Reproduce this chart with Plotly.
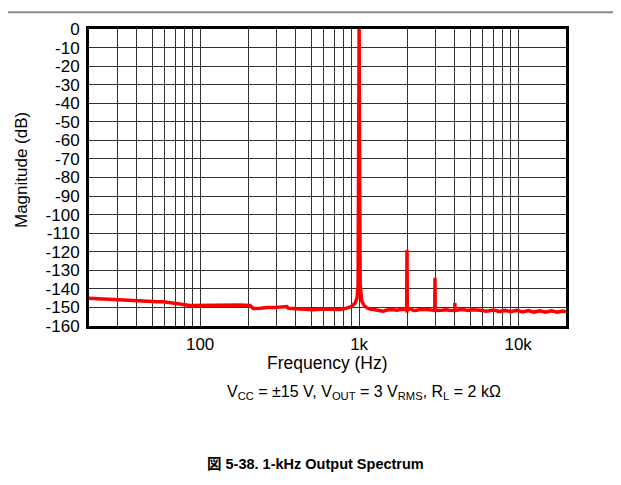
import plotly.graph_objects as go

# spectrum (Hz, dB)
freq_hz = [20, 24, 30, 36, 42, 48.5, 54, 58.8, 65, 71.3, 80, 86.5, 100, 121, 150,
           178, 206, 216, 240, 263, 290, 318, 351, 359, 400, 440, 469, 516, 600,
           690, 760, 836, 899, 944, 970, 985, 995, 1000, 1005, 1015, 1040, 1080,
           1118, 1180, 1230, 1300, 1422, 1500, 1600, 1727, 1850, 1950, 1990, 2000,
           2010, 2090, 2200, 2300, 2450, 2660, 2850, 2990, 3000, 3010, 3300, 3500,
           3700, 3990, 4000, 4010, 4300, 4530, 4800, 5200, 5770, 6300, 7000, 7600,
           8300, 9000, 9800, 10700, 11600, 12600, 13700, 14900, 16200, 17600,
           19000, 20000]
mag_db = [-145.0, -145.4, -145.9, -146.3, -146.7, -147.1, -147.0, -146.9, -147.6,
          -148.2, -148.6, -149.0, -148.9, -148.5, -148.8, -148.7, -148.9, -150.6,
          -150.4, -150.0, -150.1, -149.8, -149.5, -150.4, -150.6, -150.9, -150.8,
          -151.3, -150.9, -151.0, -151.1, -150.4, -149.4, -147.6, -145.0, -138.0,
          -60.0, 0.0, -60.0, -138.0, -146.7, -149.2, -150.2, -151.0, -151.1,
          -151.6, -152.0, -151.4, -151.1, -151.5, -151.0, -151.1, -151.5, -119.0,
          -151.5, -150.7, -151.6, -151.5, -151.0, -151.1, -151.6, -151.6, -134.0,
          -151.6, -151.5, -151.2, -151.5, -151.6, -147.6, -151.6, -151.2, -151.1,
          -151.7, -151.3, -151.5, -152.0, -151.4, -152.2, -151.6, -152.3, -151.5,
          -152.4, -151.7, -152.5, -151.8, -152.6, -151.8, -152.6, -151.9, -152.3]

x_grid = [20, 30, 40, 50, 60, 70, 80, 90, 100, 200, 300, 400, 500, 600, 700, 800,
          900, 1000, 2000, 3000, 4000, 5000, 6000, 7000, 8000, 9000, 10000, 20000]
x_labels = {100: "100", 1000: "1k", 10000: "10k"}
y_ticks = list(range(0, -170, -10))
y_labels = [str(v) for v in y_ticks]

font = "Liberation Sans, Arial, sans-serif"

fig = go.Figure()
fig.add_trace(go.Scatter(x=freq_hz, y=mag_db, mode="lines",
                         line=dict(color="#ff0000", width=3.5), showlegend=False))

fig.update_xaxes(type="log", range=[1.30103, 4.30103],
                 tickvals=x_grid, ticktext=[x_labels.get(v, "") for v in x_grid],
                 showgrid=True, gridcolor="#333333", gridwidth=1,
                 showline=True, linecolor="black", linewidth=3, mirror=True,
                 ticks="", ticklabelstandoff=1,
                 tickfont=dict(family=font, size=17, color="black"),
                 zeroline=False)
fig.update_yaxes(range=[-160, 0], tickvals=y_ticks, ticktext=y_labels,
                 showgrid=True, gridcolor="#333333", gridwidth=1,
                 showline=True, linecolor="black", linewidth=3, mirror=True,
                 ticks="", ticklabelstandoff=3,
                 tickfont=dict(family=font, size=17, color="black"),
                 zeroline=False)

# page body adds an 8 px margin, so the figure is 8 px smaller
note = dict(xref="paper", yref="paper", showarrow=False,
            xanchor="center", yanchor="middle")
fig.update_layout(
    width=613, height=477,
    margin=dict(l=81, r=55, t=14, b=159),
    plot_bgcolor="white", paper_bgcolor="white",
    font=dict(family=font, color="black"),
    shapes=[dict(type="line", xref="paper", yref="paper",
                 x0=-0.19, x1=1.12, y0=1.056, y1=1.056,
                 line=dict(color="#888888", width=2))],
    annotations=[
        dict(note, text="Magnitude (dB)", x=-0.14, y=0.526,
             textangle=-90, font=dict(size=17)),
        dict(note, text="Frequency (Hz)", x=0.501, y=-0.125,
             font=dict(size=17.5)),
        dict(note, text="V<sub>CC</sub> = ±15 V, V<sub>OUT</sub> = 3 V<sub>RMS</sub>, "
                        "R<sub>L</sub> = 2 kΩ",
             x=0.577, y=-0.224, font=dict(size=16)),
        dict(note, text="<b>図 5-38. 1-kHz Output Spectrum</b>",
             x=0.474, y=-0.464,
             font=dict(size=14.5, family="Liberation Sans, Noto Sans CJK JP, sans-serif")),
    ],
)

fig.write_html("out.html")
